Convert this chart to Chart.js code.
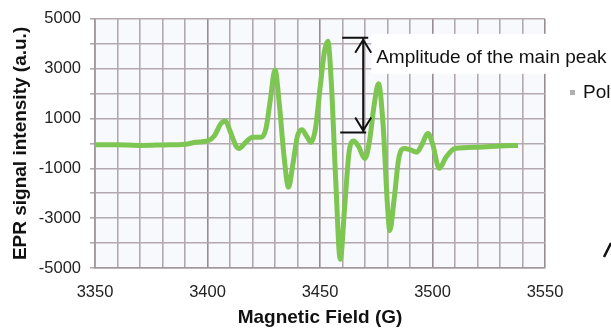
<!DOCTYPE html>
<html>
<head>
<meta charset="utf-8">
<script src="https://cdn.jsdelivr.net/npm/chart.js@4"></script>
<style>
  html, body { margin: 0; padding: 0; background: #fff; }
  #wrap { width: 611px; height: 329px; position: relative; }
</style>
</head>
<body>
<div id="wrap"><canvas id="myChart" width="611" height="329"></canvas></div>
<script>
// ===== data =====
const fieldG = [
  3350, 3360, 3370, 3380, 3390, 3395, 3400, 3403, 3406, 3408, 3410, 3413, 3414, 3417, 3420, 3424,
  3426, 3428, 3430, 3432, 3434, 3436, 3438, 3440, 3442, 3444, 3446, 3448, 3450, 3452, 3453.5, 3455,
  3457, 3459, 3461, 3463, 3465, 3467, 3470, 3472, 3474, 3476, 3478, 3480, 3481, 3483, 3485, 3487.5,
  3490, 3493, 3495, 3498, 3500, 3503, 3506, 3510, 3520, 3530, 3538
];
const intensity = [
  -50, -50, -80, -60, -30, 50, 100, 300, 800, 900, 500, -150, -200, 50, 250, 250,
  600, 1800, 2950, 1500, -500, -1750, -800, 300, 550, 300, 50, 600, 2200, 3700, 4100, 2500,
  -1500, -4650, -2500, -300, 100, -100, -600, 100, 1500, 2400, 800, -2500, -3500, -2200, -600, -200,
  -250, -350, -100, 400, 0, -1000, -550, -200, -150, -100, -80
];
const xTickLabels = [3350, 3400, 3450, 3500, 3550];
const yTickLabels = [5000, 3000, 1000, -1000, -3000, -5000];
// amplitude arrow: field, top, bottom
const ampArrow = [3469.2, 4240, 440];
const ampLabel = 'Amplitude of the main peak';
const seriesName = 'Polymer';

const points = fieldG.map((x, i) => ({ x: x, y: intensity[i] }));

const gridColor = ctx => (ctx.tick && xTickLabels.includes(ctx.tick.value)) ? 'rgb(150,140,145)' : 'rgb(178,169,174)';

// ===== extras: annotation, cut-off legend =====
const extras = {
  id: 'extras',
  beforeDraw(chart) {
    const { ctx, chartArea: a } = chart;
    ctx.save();
    ctx.fillStyle = '#f8f9fc';
    ctx.fillRect(a.left, a.top, a.right - a.left, a.bottom - a.top);
    ctx.restore();
  },
  afterDraw(chart) {
    const { ctx, scales: { x, y } } = chart;
    const ax = x.getPixelForValue(ampArrow[0]);
    const yt = y.getPixelForValue(ampArrow[1]);
    const yb = y.getPixelForValue(ampArrow[2]);
    ctx.save();
    // label box
    ctx.fillStyle = '#ffffff';
    ctx.fillRect(ax + 8, yt - 4, 611 - ax, 40);
    ctx.strokeStyle = '#111';
    ctx.lineWidth = 2;
    ctx.beginPath();
    ctx.moveTo(ax - 21, yt); ctx.lineTo(ax + 5, yt);
    ctx.moveTo(ax - 23, yb); ctx.lineTo(ax + 3, yb);
    ctx.moveTo(ax, yt + 1); ctx.lineTo(ax, yb - 1);
    ctx.moveTo(ax - 8, yt + 15); ctx.lineTo(ax, yt + 2); ctx.lineTo(ax + 8, yt + 15);
    ctx.moveTo(ax - 8, yb - 15); ctx.lineTo(ax, yb - 2); ctx.lineTo(ax + 8, yb - 15);
    ctx.stroke();
    ctx.fillStyle = '#111';
    ctx.font = '19px "Liberation Sans", Arial, sans-serif';
    ctx.textBaseline = 'middle';
    ctx.fillText(ampLabel, ax + 13, yt + 20);
    // legend (cut off at the right edge)
    ctx.fillStyle = '#b0b0b0';
    ctx.fillRect(570, 90, 5, 5);
    ctx.fillStyle = '#111';
    ctx.fillText(seriesName, 583, 93);
    ctx.beginPath();
    ctx.lineWidth = 2.5;
    ctx.moveTo(604, 257); ctx.lineTo(611, 243);
    ctx.stroke();
    ctx.restore();
  }
};

const config = {
  type: 'scatter',
  data: {
    datasets: [{
      label: seriesName,
      data: points,
      showLine: true,
      borderColor: 'rgb(125, 198, 82)',
      backgroundColor: 'rgb(125, 198, 82)',
      borderWidth: 5,
      pointRadius: 0,
      cubicInterpolationMode: 'monotone',
    }],
  },
  options: {
    responsive: false,
    animation: false,
    layout: { padding: { left: 0, top: 18, right: 66, bottom: 0 } },
    plugins: { legend: { display: false }, tooltip: { enabled: false } },
    scales: {
      x: {
        type: 'linear', min: 3350, max: 3550,
        afterFit: s => { s.height = 61; },
        ticks: {
          stepSize: 10, autoSkip: false, maxRotation: 0, padding: 15,
          color: '#222', font: { size: 16.5, family: '"Liberation Sans", Arial, sans-serif' },
          callback: v => xTickLabels.includes(v) ? String(v) : '',
        },
        grid: { color: gridColor, lineWidth: 1.6, drawTicks: false },
        border: { color: 'rgb(160,150,155)', width: 1.6 },
        title: {
          display: true, text: 'Magnetic Field (G)', color: '#111',
          font: { size: 19, weight: 'bold', family: '"Liberation Sans", Arial, sans-serif' },
          padding: { top: 0, bottom: 0 },
        },
      },
      y: {
        min: -5000, max: 5000,
        afterFit: s => { s.width = 95; },
        ticks: {
          stepSize: 1000, autoSkip: false, padding: 9,
          color: '#222', font: { size: 16.5, family: '"Liberation Sans", Arial, sans-serif' },
          callback: v => yTickLabels.includes(v) ? String(v) : '',
        },
        grid: { color: 'rgb(178,169,174)', lineWidth: 1.6, tickLength: 5 },
        border: { color: 'rgb(160,150,155)', width: 1.6 },
        title: {
          display: true, text: 'EPR signal intensity (a.u.)', color: '#111',
          font: { size: 19, weight: 'bold', family: '"Liberation Sans", Arial, sans-serif' },
          padding: { top: 9, bottom: 0 },
        },
      },
    },
  },
  plugins: [extras],
};

new Chart(document.getElementById('myChart'), config);
</script>
</body>
</html>
